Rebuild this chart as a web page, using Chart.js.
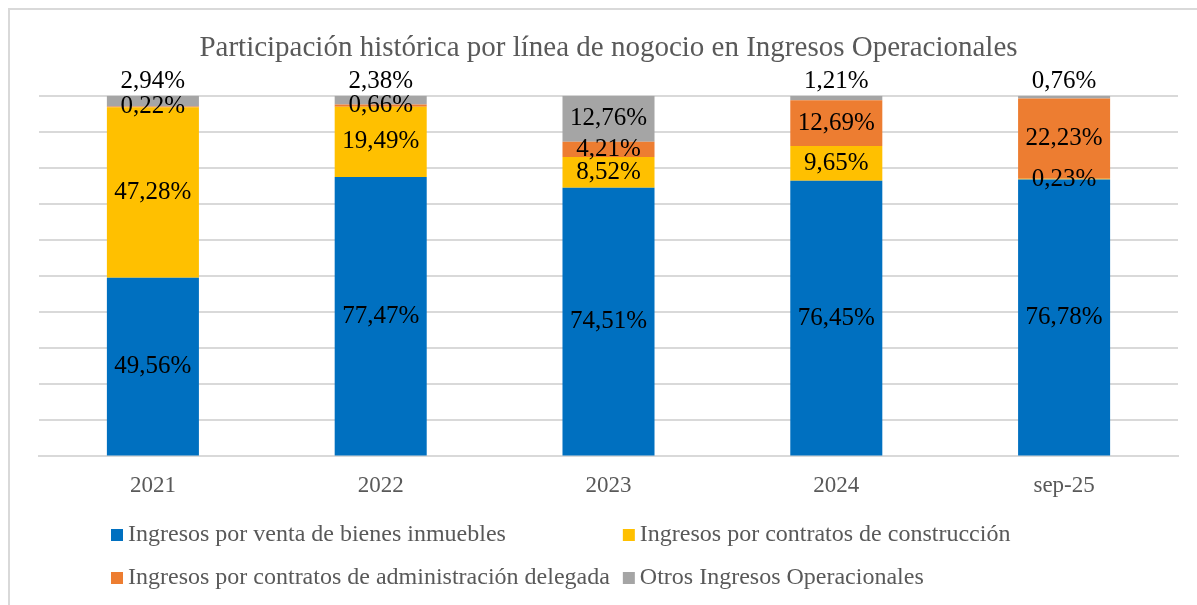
<!DOCTYPE html>
<html>
<head>
<meta charset="utf-8">
<script src="https://cdn.jsdelivr.net/npm/chart.js@4.4.1/dist/chart.umd.min.js"></script>
<style>
  html, body { margin: 0; padding: 0; background: #fff; }
  #wrap { position: relative; width: 1197px; height: 605px; }
</style>
</head>
<body>
<div id="wrap"><canvas id="chart"></canvas></div>
<script>
// datos del gráfico
const categories = ['2021', '2022', '2023', '2024', 'sep-25'];
const seriesNames = [
  'Ingresos por venta de bienes inmuebles',
  'Ingresos por contratos de construcción',
  'Ingresos por contratos de administración delegada',
  'Otros Ingresos Operacionales'
];
const ventaBienes = [49.56, 77.47, 74.51, 76.45, 76.78];
const construccion = [47.28, 19.49, 8.52, 9.65, 0.23];
const adminDelegada = [0.22, 0.66, 4.21, 12.69, 22.23];
const otrosIngresos = [2.94, 2.38, 12.76, 1.21, 0.76];
const seriesColors = ['#0070C0', '#FFC000', '#ED7D31', '#A5A5A5'];

const serif = "'Liberation Serif', 'Times New Roman', serif";

function fmt(v) {
  return v.toFixed(2).replace('.', ',') + '%';
}

// marco del gráfico (borde gris)
const framePlugin = {
  id: 'frame',
  beforeDraw(chart) {
    const ctx = chart.ctx;
    ctx.save();
    ctx.strokeStyle = '#d9d9d9';
    ctx.lineWidth = 2;
    ctx.beginPath();
    ctx.moveTo(9, 605);
    ctx.lineTo(9, 9);
    ctx.lineTo(1197, 9);
    ctx.stroke();
    ctx.restore();
  }
};

// etiquetas de datos
const labelsPlugin = {
  id: 'dataLabels',
  afterDatasetsDraw(chart) {
    const ctx = chart.ctx;
    ctx.save();
    ctx.font = '25px ' + serif;
    ctx.fillStyle = '#000';
    ctx.textAlign = 'center';
    ctx.textBaseline = 'middle';
    const last = chart.data.datasets.length - 1;
    chart.data.datasets.forEach((ds, i) => {
      chart.getDatasetMeta(i).data.forEach((bar, j) => {
        const v = ds.data[j];
        let y = (bar.y + bar.base) / 2;
        if (i === last && v < 5) {
          y = bar.y - 14;
        }
        ctx.fillText(fmt(v), bar.x, y);
      });
    });
    ctx.restore();
  }
};

// leyenda en dos filas, dos columnas
const legendPlugin = {
  id: 'customLegend',
  afterDraw(chart) {
    const ctx = chart.ctx;
    const ds = chart.data.datasets;
    ctx.save();
    ctx.font = '24px ' + serif;
    ctx.textBaseline = 'middle';
    ctx.textAlign = 'left';
    const x0 = 111;
    const box = 12;
    const rows = [535, 578];
    const col1w = Math.max(ctx.measureText(ds[0].label).width, ctx.measureText(ds[2].label).width);
    const cols = [x0, x0 + box + 5 + col1w + 13];
    ds.forEach((d, i) => {
      const x = cols[i % 2];
      const y = rows[Math.floor(i / 2)];
      ctx.fillStyle = d.backgroundColor;
      ctx.fillRect(x, y - box / 2, box, box);
      ctx.fillStyle = '#595959';
      ctx.fillText(d.label, x + box + 5, y);
    });
    ctx.restore();
  }
};

const allSeries = [ventaBienes, construccion, adminDelegada, otrosIngresos];

const ctx = document.getElementById('chart').getContext('2d');
const chart = new Chart(ctx, {
  type: 'bar',
  data: {
    labels: categories,
    datasets: allSeries.map((vals, i) => ({
      label: seriesNames[i],
      data: vals,
      backgroundColor: seriesColors[i],
      borderWidth: 0,
      categoryPercentage: 1,
      barPercentage: 0.404
    }))
  },
  options: {
    responsive: true,
    maintainAspectRatio: false,
    animation: false,
    layout: { padding: { left: 39, right: 19, top: 0, bottom: 97 } },
    plugins: {
      legend: { display: false },
      tooltip: { enabled: false },
      title: {
        display: true,
        text: 'Participación histórica por línea de nogocio en Ingresos Operacionales',
        color: '#595959',
        font: { family: serif, size: 29, weight: 'normal' },
        padding: { top: 31, bottom: 30 }
      }
    },
    scales: {
      x: {
        stacked: true,
        grid: { display: false },
        border: { color: '#d9d9d9', width: 2 },
        ticks: { color: '#595959', font: { family: serif, size: 23 }, padding: 8 }
      },
      y: {
        stacked: true,
        min: 0,
        max: 100,
        ticks: { display: false, stepSize: 10 },
        grid: { color: '#d9d9d9', lineWidth: 2, drawTicks: false },
        border: { display: false }
      }
    }
  },
  plugins: [framePlugin, labelsPlugin, legendPlugin]
});
</script>
</body>
</html>
